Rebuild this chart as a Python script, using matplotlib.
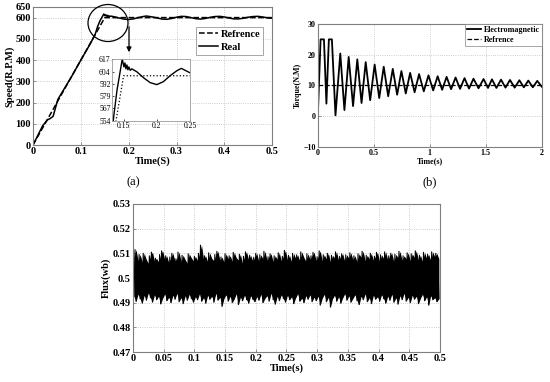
import numpy as np
import matplotlib
matplotlib.use("Agg")
import matplotlib.pyplot as plt
from matplotlib.patches import Ellipse, FancyArrowPatch

plt.rcParams['font.family'] = ['Liberation Serif', 'DejaVu Serif']
plt.rcParams['font.weight'] = 'bold'
plt.rcParams['axes.labelweight'] = 'bold'

# ---- (a) speed ----
speed_ref_t = [0.0, 0.15, 0.5]
speed_ref = [0, 600, 600]

speed_t = [0.0, 0.01, 0.02, 0.03, 0.036, 0.042, 0.047, 0.052, 0.06, 0.08,
           0.1, 0.12, 0.13, 0.135, 0.14, 0.145, 0.148, 0.1505, 0.152, 0.1535,
           0.155, 0.1565, 0.158, 0.16, 0.1625, 0.165, 0.17, 0.18, 0.19, 0.2,
           0.21, 0.22, 0.23, 0.237, 0.25, 0.26, 0.27, 0.28, 0.29, 0.3,
           0.31, 0.32, 0.33, 0.34, 0.35, 0.36, 0.37, 0.38, 0.39, 0.4,
           0.41, 0.42, 0.43, 0.44, 0.45, 0.46, 0.47, 0.48, 0.49, 0.5]
speed_real = [0, 45, 90, 118, 125, 135, 175, 215, 245, 320,
              400, 478, 522, 558, 585, 605, 617, 609, 613, 607,
              611, 606, 609, 605.5, 607, 606, 604, 598, 593, 591,
              594, 600, 605, 607.5, 603, 598, 593, 592, 596, 602,
              606, 605, 600, 595, 593, 596, 601, 605, 606, 603,
              598, 594, 594, 597, 602, 605, 606, 603, 599, 597]

speed_yticks = [0, 100, 200, 300, 400, 500, 600, 650]
speed_xticks = [0, 0.1, 0.2, 0.3, 0.4, 0.5]
speed_xlabels = ['0', '0.1', '0.2', '0.3', '0.4', '0.5']
inset_yticks = [554, 567, 579, 592, 604, 617]
inset_xticks = [0.15, 0.2, 0.25]
inset_xlabels = ['0.15', '0.2', '0.25']

# ---- (b) torque ----
torque_t = [0.0, 0.024, 0.054, 0.076, 0.098, 0.125, 0.157, 0.2, 0.237, 0.275,
            0.314, 0.352, 0.39, 0.427, 0.467, 0.507, 0.548, 0.588, 0.628, 0.669,
            0.708, 0.746, 0.785, 0.824, 0.864, 0.904, 0.946, 0.988, 1.03, 1.07,
            1.11, 1.15, 1.19, 1.23, 1.27, 1.31, 1.35, 1.39, 1.435, 1.48,
            1.52, 1.555, 1.595, 1.636, 1.676, 1.716, 1.758, 1.8, 1.84, 1.88,
            1.92, 1.96, 2.0]
torque_em = [1, 25, 25, 4.1, 25, 25, 0.3, 20.4, 2.0, 19.3,
             3.3, 18.5, 4.3, 17.6, 5.2, 16.8, 5.9, 16.1, 6.5, 15.4,
             7.0, 14.7, 7.4, 14.1, 7.8, 13.7, 8.1, 13.3, 8.4, 13.0,
             8.6, 12.8, 8.8, 12.6, 8.9, 12.4, 9.0, 12.2, 9.1, 12.1,
             9.2, 12.0, 9.2, 11.9, 9.3, 11.8, 9.3, 11.7, 9.4, 11.6,
             9.4, 11.5, 9.6]
torque_ref_t = [0, 2]
torque_ref = [10, 10]
torque_yticks = [-10, 0, 10, 20, 30]
torque_xticks = [0, 0.5, 1, 1.5, 2]
torque_xlabels = ['0', '0.5', '1', '1.5', '2']

# ---- (c) flux: peak / valley values of the ripple ----
flux_hi = [0.5085, 0.5115, 0.5070, 0.5095, 0.5065, 0.5100, 0.5075, 0.5060, 0.5090, 0.5105, 0.5070, 0.5080, 0.5065, 0.5095, 0.5110,
           0.5075, 0.5090, 0.5062, 0.5085, 0.5100, 0.5070, 0.5078, 0.5105, 0.5068, 0.5092, 0.5075, 0.5060, 0.5098, 0.5082, 0.5070,
           0.5088, 0.5072, 0.5100, 0.5133, 0.5075, 0.5090, 0.5066, 0.5102, 0.5080, 0.5070, 0.5095, 0.5108, 0.5072, 0.5085, 0.5064,
           0.5098, 0.5078, 0.5090, 0.5068, 0.5104, 0.5082, 0.5073, 0.5096, 0.5060, 0.5088, 0.5106, 0.5075, 0.5092, 0.5070, 0.5084,
           0.5100, 0.5068, 0.5094, 0.5078, 0.5108, 0.5072, 0.5086, 0.5098, 0.5066, 0.5090, 0.5076, 0.5102, 0.5070, 0.5088, 0.5112,
           0.5074, 0.5092, 0.5066, 0.5100, 0.5080, 0.5094, 0.5070, 0.5106, 0.5084, 0.5068, 0.5098, 0.5076, 0.5090, 0.5104, 0.5072,
           0.5086, 0.5110, 0.5070, 0.5094, 0.5078, 0.5100, 0.5066, 0.5092, 0.5082, 0.5106, 0.5072, 0.5088, 0.5098, 0.5068, 0.5094,
           0.5080, 0.5102, 0.5074, 0.5090, 0.5066, 0.5098, 0.5084, 0.5108, 0.5070, 0.5092, 0.5078, 0.5100, 0.5072, 0.5088, 0.5104,
           0.5068, 0.5094, 0.5080, 0.5106, 0.5074, 0.5090, 0.5100, 0.5066, 0.5096, 0.5082, 0.5108, 0.5072, 0.5090, 0.5078, 0.5102,
           0.5070, 0.5098, 0.5084, 0.5110, 0.5074, 0.5092, 0.5068, 0.5104, 0.5080, 0.5096, 0.5072, 0.5106, 0.5086, 0.5100, 0.5078]
flux_lo = [0.4925, 0.4905, 0.4935, 0.4915, 0.4898, 0.4930, 0.4910, 0.4940, 0.4920, 0.4902, 0.4932, 0.4912, 0.4926, 0.4895, 0.4918,
           0.4935, 0.4908, 0.4922, 0.4900, 0.4930, 0.4914, 0.4938, 0.4904, 0.4920, 0.4896, 0.4928, 0.4910, 0.4934, 0.4916, 0.4902,
           0.4924, 0.4912, 0.4936, 0.4906, 0.4920, 0.4898, 0.4930, 0.4914, 0.4926, 0.4902, 0.4938, 0.4910, 0.4922, 0.4885, 0.4918,
           0.4932, 0.4906, 0.4926, 0.4900, 0.4916, 0.4936, 0.4892, 0.4922, 0.4908, 0.4930, 0.4912, 0.4898, 0.4928, 0.4914, 0.4904,
           0.4924, 0.4910, 0.4934, 0.4900, 0.4918, 0.4928, 0.4906, 0.4938, 0.4912, 0.4894, 0.4926, 0.4908, 0.4932, 0.4916, 0.4902,
           0.4930, 0.4912, 0.4924, 0.4896, 0.4920, 0.4936, 0.4906, 0.4918, 0.4900, 0.4928, 0.4914, 0.4932, 0.4904, 0.4922, 0.4908,
           0.4926, 0.4890, 0.4918, 0.4934, 0.4904, 0.4922, 0.4882, 0.4916, 0.4930, 0.4906, 0.4924, 0.4898, 0.4920, 0.4936, 0.4910,
           0.4928, 0.4902, 0.4918, 0.4932, 0.4908, 0.4892, 0.4926, 0.4912, 0.4936, 0.4904, 0.4920, 0.4896, 0.4930, 0.4914, 0.4924,
           0.4906, 0.4932, 0.4916, 0.4898, 0.4926, 0.4910, 0.4934, 0.4902, 0.4920, 0.4894, 0.4928, 0.4912, 0.4938, 0.4906, 0.4922,
           0.4900, 0.4930, 0.4914, 0.4926, 0.4896, 0.4918, 0.4934, 0.4908, 0.4924, 0.4890, 0.4928, 0.4912, 0.4920, 0.4904, 0.4916]
flux_yticks = [0.47, 0.48, 0.49, 0.5, 0.51, 0.52, 0.53]
flux_ylabels = ['0.47', '0.48', '0.49', '0.5', '0.51', '0.52', '0.53']
flux_xticks = [0, 0.05, 0.1, 0.15, 0.2, 0.25, 0.3, 0.35, 0.4, 0.45, 0.5]
flux_xlabels = ['0', '0.05', '0.1', '0.15', '0.2', '0.25', '0.3', '0.35', '0.4', '0.45', '0.5']


def matlab_style(ax, size):
    """Gray box, inward ticks and dotted grid like a MATLAB figure"""
    for s in ax.spines.values():
        s.set_color('#7f7f7f')
        s.set_linewidth(0.8)
    ax.tick_params(direction='in', length=2.5, width=0.6, color='#7f7f7f',
                   labelsize=size, pad=1.5)
    ax.grid(True, linestyle=':', color='#bdbdbd', linewidth=0.6)
    ax.set_axisbelow(True)


fig = plt.figure(figsize=(5.5, 3.82), dpi=100)

# ---- panel (a) ----
ax1 = fig.add_axes([0.060, 0.6204, 0.435, 0.3613])
ax1.plot(speed_ref_t, speed_ref, 'k--', lw=1.1, label='Refrence')
ax1.plot(speed_t, speed_real, 'k-', lw=1.1, label='Real')
ax1.set_xlim(0, 0.5)
ax1.set_ylim(0, 650)
ax1.set_yticks(speed_yticks)
ax1.set_xticks(speed_xticks)
ax1.set_xticklabels(speed_xlabels)
matlab_style(ax1, 7.5)
ax1.set_ylabel('Speed(R.P.M)', fontsize=7.5, labelpad=1)
ax1.set_xlabel('Time(S)', fontsize=7.5, labelpad=0)
leg = ax1.legend(loc='upper right', bbox_to_anchor=(0.985, 0.895), fontsize=7.5,
                 frameon=True, fancybox=False, handlelength=1.8,
                 borderpad=0.3, labelspacing=0.3, handletextpad=0.3)
leg.get_frame().set_edgecolor('#7f7f7f')
leg.get_frame().set_linewidth(0.6)

# zoom inset
axin = fig.add_axes([0.2036, 0.6832, 0.1418, 0.1623])
axin.plot(speed_ref_t, speed_ref, 'k:', lw=0.9)
axin.plot(speed_t, speed_real, 'k-', lw=1.0)
axin.set_xlim(0.1325, 0.25)
axin.set_ylim(554, 617)
axin.set_yticks(inset_yticks)
axin.set_xticks(inset_xticks)
axin.set_xticklabels(inset_xlabels)
for s in axin.spines.values():
    s.set_color('#9a9a9a')
    s.set_linewidth(0.6)
axin.tick_params(direction='in', length=1.5, width=0.5, labelsize=5.5, pad=1)
for lab in axin.get_xticklabels() + axin.get_yticklabels():
    lab.set_fontweight('normal')

circ = Ellipse((108 / 550, 1 - 23 / 382), 40 / 550, 37 / 382,
               transform=fig.transFigure, fill=False, ec='black', lw=0.9)
fig.patches.append(circ)
arr = FancyArrowPatch((129 / 550, 1 - 24 / 382), (129 / 550, 1 - 55 / 382),
                      transform=fig.transFigure, arrowstyle='-|>',
                      mutation_scale=7, color='black', lw=0.9)
fig.patches.append(arr)

# ---- panel (b) ----
ax2 = fig.add_axes([0.578, 0.6152, 0.407, 0.322])
ax2.plot(torque_t, torque_em, 'k-', lw=1.3, label='Electromagnetic')
ax2.plot(torque_ref_t, torque_ref, 'k--', lw=0.9, label='Refrence')
ax2.set_xlim(0, 2)
ax2.set_ylim(-10, 30)
ax2.set_yticks(torque_yticks)
ax2.set_xticks(torque_xticks)
ax2.set_xticklabels(torque_xlabels)
matlab_style(ax2, 5.8)
ax2.set_ylabel('Torque(N.M)', fontsize=5.8, labelpad=1)
ax2.set_xlabel('Time(s)', fontsize=5.8, labelpad=0)
leg2 = ax2.legend(loc='upper right', fontsize=5.8, frameon=True,
                  fancybox=False, handlelength=1.8, borderpad=0.25,
                  labelspacing=0.2, handletextpad=0.3, borderaxespad=0)
leg2.get_frame().set_edgecolor('#7f7f7f')
leg2.get_frame().set_linewidth(0.6)

fig.text(0.242, 0.524, '(a)', ha='center', va='center', fontsize=9,
         fontweight='normal')
fig.text(0.782, 0.524, '(b)', ha='center', va='center', fontsize=9,
         fontweight='normal')

# ---- flux panel ----
n = len(flux_hi)
step = 0.5 / n
flux_t_hi = np.arange(n) * step
flux_t_lo = flux_t_hi + step / 2
flux_t = np.empty(2 * n)
flux_v = np.empty(2 * n)
flux_t[0::2] = flux_t_hi
flux_t[1::2] = flux_t_lo
flux_v[0::2] = flux_hi
flux_v[1::2] = flux_lo

ax3 = fig.add_axes([0.2418, 0.0785, 0.558, 0.3875])
ax3.fill_between(flux_t_lo, flux_lo, flux_hi, color='black', lw=0)
ax3.plot(flux_t, flux_v, 'k-', lw=0.8)
ax3.set_xlim(0, 0.5)
ax3.set_ylim(0.47, 0.53)
ax3.set_yticks(flux_yticks)
ax3.set_yticklabels(flux_ylabels)
ax3.set_xticks(flux_xticks)
ax3.set_xticklabels(flux_xlabels)
matlab_style(ax3, 7.5)
ax3.set_ylabel('Flux(wb)', fontsize=7.5, labelpad=1)
ax3.set_xlabel('Time(s)', fontsize=7.5, labelpad=0)

fig.savefig('out.png', dpi=100)
